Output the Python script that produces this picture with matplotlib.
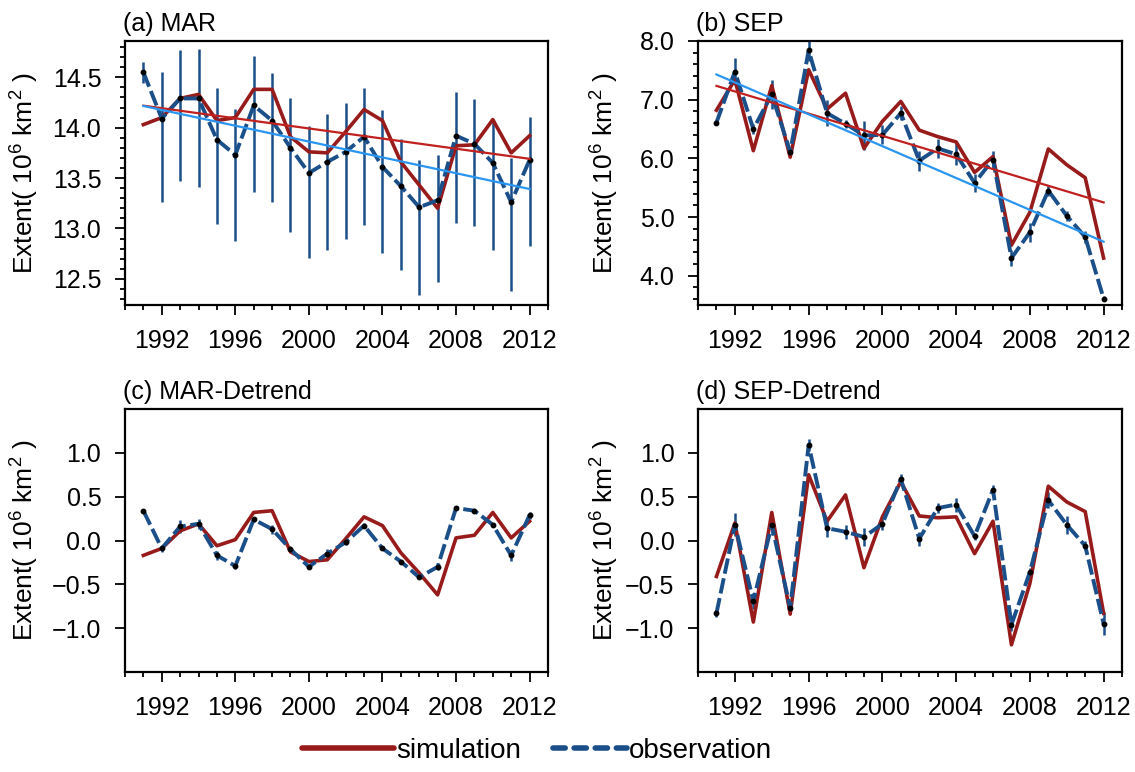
import matplotlib
matplotlib.use("Agg")
import matplotlib.pyplot as plt
import numpy as np
from matplotlib.lines import Line2D
from matplotlib.ticker import MultipleLocator

plt.rcParams["font.family"] = ["Liberation Sans", "DejaVu Sans"]
plt.rcParams["mathtext.fontset"] = "custom"
plt.rcParams["mathtext.rm"] = "Liberation Sans"
plt.rcParams["mathtext.default"] = "regular"

YEARS = np.arange(1991, 2013)

# March sea-ice extent (10^6 km^2)
mar_sim = [14.03, 14.10, 14.29, 14.33, 14.07, 14.10, 14.38, 14.38, 13.91, 13.76, 13.75,
           13.96, 14.18, 14.07, 13.66, 13.43, 13.20, 13.82, 13.83, 14.08, 13.75, 13.92]
mar_obs = [14.55, 14.09, 14.29, 14.29, 13.88, 13.73, 14.22, 14.07, 13.80, 13.55, 13.66,
           13.76, 13.91, 13.61, 13.42, 13.21, 13.28, 13.92, 13.84, 13.65, 13.26, 13.68]
mar_obs_low = [14.44, 13.26, 13.47, 13.41, 13.04, 12.88, 13.36, 13.26, 12.96, 12.71, 12.79,
               12.90, 13.03, 12.76, 12.59, 12.34, 12.47, 13.05, 13.02, 12.79, 12.38, 12.83]
mar_obs_high = [14.65, 14.55, 14.77, 14.78, 14.39, 14.19, 14.71, 14.54, 14.29, 14.02, 14.14,
                14.24, 14.39, 14.18, 13.89, 13.68, 13.73, 14.35, 14.28, 14.09, 13.70, 14.11]

# September sea-ice extent (10^6 km^2)
sep_sim = [6.82, 7.34, 6.13, 7.24, 6.02, 7.51, 6.84, 7.11, 6.17, 6.63, 6.97,
           6.48, 6.37, 6.28, 5.76, 6.03, 4.52, 5.08, 6.16, 5.89, 5.67, 4.30]
sep_obs = [6.61, 7.48, 6.50, 7.09, 6.11, 7.84, 6.77, 6.59, 6.39, 6.40, 6.77,
           5.96, 6.17, 6.07, 5.58, 5.98, 4.30, 4.74, 5.45, 5.02, 4.66, 3.61]
sep_obs_err = [0.05, 0.23, 0.09, 0.25, 0.09, 0.18, 0.22, 0.07, 0.24, 0.16, 0.12,
               0.17, 0.16, 0.19, 0.16, 0.14, 0.13, 0.16, 0.09, 0.09, 0.10, 0.04]

# Detrended anomalies (10^6 km^2)
mar_dt_sim = [-0.17, -0.09, 0.11, 0.19, -0.06, 0.01, 0.32, 0.34, -0.13, -0.24, -0.22,
              0.02, 0.27, 0.17, -0.14, -0.37, -0.62, 0.03, 0.06, 0.32, 0.03, 0.22]
mar_dt_obs = [0.34, -0.09, 0.16, 0.19, -0.17, -0.29, 0.24, 0.13, -0.10, -0.30, -0.15,
              -0.02, 0.17, -0.09, -0.24, -0.42, -0.30, 0.37, 0.34, 0.18, -0.17, 0.29]
mar_dt_err = [0.02, 0.04, 0.07, 0.06, 0.05, 0.03, 0.03, 0.05, 0.03, 0.02, 0.05,
              0.03, 0.03, 0.02, 0.02, 0.02, 0.04, 0.02, 0.02, 0.02, 0.06, 0.04]
sep_dt_sim = [-0.41, 0.20, -0.93, 0.32, -0.84, 0.75, 0.22, 0.52, -0.31, 0.27, 0.67,
              0.28, 0.26, 0.27, -0.15, 0.22, -1.19, -0.49, 0.62, 0.44, 0.33, -0.83]
sep_dt_obs = [-0.83, 0.18, -0.69, 0.18, -0.77, 1.09, 0.14, 0.10, 0.04, 0.19, 0.70,
              0.02, 0.37, 0.41, 0.05, 0.58, -0.96, -0.36, 0.46, 0.18, -0.06, -0.95]
sep_dt_err = [0.04, 0.13, 0.09, 0.12, 0.07, 0.07, 0.10, 0.08, 0.10, 0.07, 0.06,
              0.08, 0.06, 0.08, 0.04, 0.05, 0.07, 0.05, 0.09, 0.10, 0.05, 0.13]

SIM_COLOR = "#981b1b"
OBS_COLOR = "#1b4f8a"
SIM_TREND = "#c0211f"
OBS_TREND = "#2a95f0"
FS = 18

fig = plt.figure(figsize=(11.35, 7.72), dpi=100)
ax_a = fig.add_axes([0.1101, 0.6049, 0.3727, 0.3420])
ax_b = fig.add_axes([0.6150, 0.6049, 0.3736, 0.3420])
ax_c = fig.add_axes([0.1101, 0.1295, 0.3727, 0.3407])
ax_d = fig.add_axes([0.6150, 0.1295, 0.3736, 0.3407])


def draw_panel(ax, sim, obs, yerr, title, label_x, trend=False):
    sim = np.asarray(sim)
    obs = np.asarray(obs)
    ax.errorbar(YEARS, obs, yerr=yerr, fmt="none", ecolor=OBS_COLOR,
                elinewidth=1.8, capsize=0, zorder=1)
    ax.plot(YEARS, sim, color=SIM_COLOR, lw=2.6, zorder=2)
    ax.plot(YEARS, obs, color=OBS_COLOR, lw=2.8, linestyle=(0, (4, 1.2)),
            marker="o", ms=3.2, mfc="black", mec="black", zorder=3)
    if trend:
        # least-squares trend of each series
        for series, color in ((sim, SIM_TREND), (obs, OBS_TREND)):
            slope, intercept = np.polyfit(YEARS, series, 1)
            ax.plot(YEARS[[0, -1]], slope * YEARS[[0, -1]] + intercept,
                    color=color, lw=1.6, zorder=4)

    ax.set_xlim(1990, 2013)
    ax.set_xticks(np.arange(1992, 2013, 4))
    ax.xaxis.set_minor_locator(MultipleLocator(1))
    ax.tick_params(which="both", direction="out", top=False, right=False,
                   width=1.3, labelsize=FS)
    ax.tick_params(which="major", length=7)
    ax.tick_params(which="minor", length=3.8)
    ax.tick_params(axis="x", pad=10)
    ax.tick_params(axis="y", pad=10)
    for spine in ax.spines.values():
        spine.set_linewidth(1.6)
    ax.set_ylabel(r"Extent( 10$^{6}$ km$^{2}$ )", fontsize=19)
    ax.yaxis.set_label_coords(label_x, 0.5)
    ax.text(-0.005, 1.02, title, transform=ax.transAxes, fontsize=FS,
            ha="left", va="bottom")


draw_panel(ax_a, mar_sim, mar_obs,
           [np.subtract(mar_obs, mar_obs_low), np.subtract(mar_obs_high, mar_obs)],
           "(a) MAR", -0.198, trend=True)
ax_a.set_ylim(12.24, 14.86)
ax_a.set_yticks([12.5, 13.0, 13.5, 14.0, 14.5])
ax_a.yaxis.set_minor_locator(MultipleLocator(0.1))
ax_a.yaxis.set_major_formatter("{x:.1f}")

draw_panel(ax_b, sep_sim, sep_obs, sep_obs_err, "(b) SEP", -0.182, trend=True)
ax_b.set_ylim(3.5, 8.0)
ax_b.set_yticks([4.0, 5.0, 6.0, 7.0, 8.0])
ax_b.yaxis.set_minor_locator(MultipleLocator(0.2))
ax_b.yaxis.set_major_formatter("{x:.1f}")

for ax, sim, obs, err, title, lx in (
        (ax_c, mar_dt_sim, mar_dt_obs, mar_dt_err, "(c) MAR-Detrend", -0.198),
        (ax_d, sep_dt_sim, sep_dt_obs, sep_dt_err, "(d) SEP-Detrend", -0.182)):
    draw_panel(ax, sim, obs, err, title, lx)
    ax.set_ylim(-1.5, 1.5)
    ax.set_yticks([-1.0, -0.5, 0.0, 0.5, 1.0])
    ax.yaxis.set_minor_locator(plt.NullLocator())
    ax.yaxis.set_major_formatter("{x:.1f}")

# legend keys, one box per entry so each handle keeps its own length
sim_key = Line2D([], [], color=SIM_COLOR, lw=4, solid_capstyle="round")
obs_key = Line2D([], [], color=OBS_COLOR, lw=4, linestyle=(0, (2.2, 1.6)),
                 dash_capstyle="round")
for key, text, x, hl in ((sim_key, "simulation", 0.2661, 3.3),
                         (obs_key, "observation", 0.4872, 2.65)):
    fig.legend([key], [text], loc="center left", bbox_to_anchor=(x, 0.027),
               frameon=False, fontsize=20, handlelength=hl, handletextpad=0.1,
               borderpad=0, borderaxespad=0)

fig.savefig("out.png", dpi=100)
